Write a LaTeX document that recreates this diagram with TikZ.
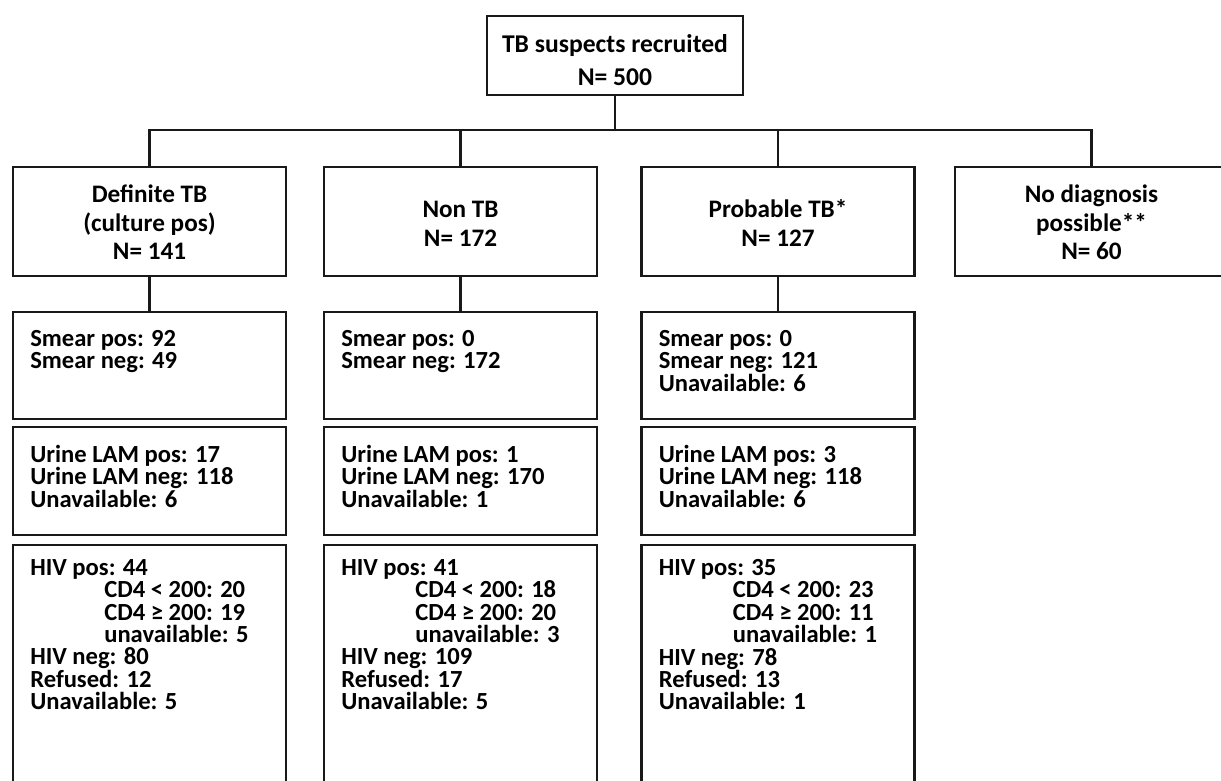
\documentclass[tikz,border=0pt]{standalone}
\usepackage{fontspec}
\setmainfont{Carlito}
\usepackage{tikz}
\usetikzlibrary{positioning}

\newcommand{\retrait}{\hspace*{37pt}}
\setlength{\lineskiplimit}{-20pt}

\begin{document}
\begin{tikzpicture}[x=0.5pt, y=-0.5pt,
  every node/.style={font=\bfseries\fontsize{12.3}{11.2}\selectfont},
  boite/.style={draw=black!90, line width=1.1pt, inner sep=0pt, minimum width=136.5pt},
  titre/.style={align=center, inner sep=0pt, font=\bfseries\fontsize{12.6}{14.2}\selectfont},
  liste/.style={align=left, inner sep=0pt, anchor=north west},
  lien/.style={draw=black!90, line width=1.1pt}]
  \useasboundingbox (0,0) rectangle (1221,781);

  % Boite du haut
  \node[boite, minimum width=128pt, minimum height=39.5pt] (top) at (615,55.5) {};
  \node[titre, font=\bfseries\fontsize{12.8}{16.5}\selectfont] (t-top) at ([shift={(0,4.5)}]top.center)
    {TB suspects recruited\\N= 500};

  % Categories
  \node[boite, minimum height=54.5pt] (def)  at (149.5,221.5) {};
  \node[boite, minimum height=54.5pt] (non)  at (460.5,221.5) {};
  \node[boite, minimum height=54.5pt] (prob) at (778,221.5) {};
  \node[boite, minimum height=54.5pt] (nodx) at (1091.5,221.5) {};
  \node[titre] (t-def)  at ([shift={(0,1)}]def.center)  {Definite TB\\(culture pos)\\N= 141};
  \node[titre] (t-non)  at ([shift={(0,2.5)}]non.center)  {Non TB\\N= 172};
  \node[titre] (t-prob) at ([shift={(0,1.5)}]prob.center) {Probable TB*\\N= 127};
  \node[titre] (t-nodx) at ([shift={(0,1)}]nodx.center) {No diagnosis\\possible**\\N= 60};

  % Frottis
  \node[boite, minimum height=53.5pt] (smear1) at (149.5,365.5) {};
  \node[boite, minimum height=53.5pt] (smear2) at (460.5,365.5) {};
  \node[boite, minimum height=53.5pt] (smear3) at (778,365.5) {};
  \node[liste] (t-smear1) at ([shift={(18,19)}]smear1.north west) {Smear pos: 92\\Smear neg: 49};
  \node[liste] (t-smear2) at ([shift={(18,19)}]smear2.north west) {Smear pos: 0\\Smear neg: 172};
  \node[liste] (t-smear3) at ([shift={(18,19)}]smear3.north west) {Smear pos: 0\\Smear neg: 121\\Unavailable: 6};

  % LAM urinaire
  \node[boite, minimum height=54pt] (urine1) at (149.5,481) {};
  \node[boite, minimum height=54pt] (urine2) at (460.5,481) {};
  \node[boite, minimum height=54pt] (urine3) at (778,481) {};
  \node[liste] (t-urine1) at ([shift={(18,19)}]urine1.north west) {Urine LAM pos: 17\\Urine LAM neg: 118\\Unavailable: 6};
  \node[liste] (t-urine2) at ([shift={(18,19)}]urine2.north west) {Urine LAM pos: 1\\Urine LAM neg: 170\\Unavailable: 1};
  \node[liste] (t-urine3) at ([shift={(18,19)}]urine3.north west) {Urine LAM pos: 3\\Urine LAM neg: 118\\Unavailable: 6};

  % VIH
  \node[boite, minimum height=127.5pt] (hiv1) at (149.5,672.5) {};
  \node[boite, minimum height=127.5pt] (hiv2) at (460.5,672.5) {};
  \node[boite, minimum height=127.5pt] (hiv3) at (778,672.5) {};
  \node[liste] (t-hiv1) at ([shift={(18,15)}]hiv1.north west)
    {HIV pos: 44\\\retrait CD4 < 200: 20\\\retrait CD4 ≥ 200: 19\\\retrait unavailable: 5\\HIV neg: 80\\Refused: 12\\Unavailable: 5};
  \node[liste] (t-hiv2) at ([shift={(18,15)}]hiv2.north west)
    {HIV pos: 41\\\retrait CD4 < 200: 18\\\retrait CD4 ≥ 200: 20\\\retrait unavailable: 3\\HIV neg: 109\\Refused: 17\\Unavailable: 5};
  \node[liste] (t-hiv3) at ([shift={(18,15)}]hiv3.north west)
    {HIV pos: 35\\\retrait CD4 < 200: 23\\\retrait CD4 ≥ 200: 11\\\retrait unavailable: 1\\HIV neg: 78\\Refused: 13\\Unavailable: 1};

  % Liens
  \coordinate (bus) at (615,130);
  \draw[lien] (top.south) -- (top.south |- bus);
  \draw[lien] (def.north) |- (nodx.north |- bus) -- (nodx.north);
  \draw[lien] (non.north) -- (non.north |- bus);
  \draw[lien] (prob.north) -- (prob.north |- bus);
  \draw[lien] (def.south) -- (smear1.north);
  \draw[lien] (non.south) -- (smear2.north);
  \draw[lien] (prob.south) -- (smear3.north);
\end{tikzpicture}
\end{document}
